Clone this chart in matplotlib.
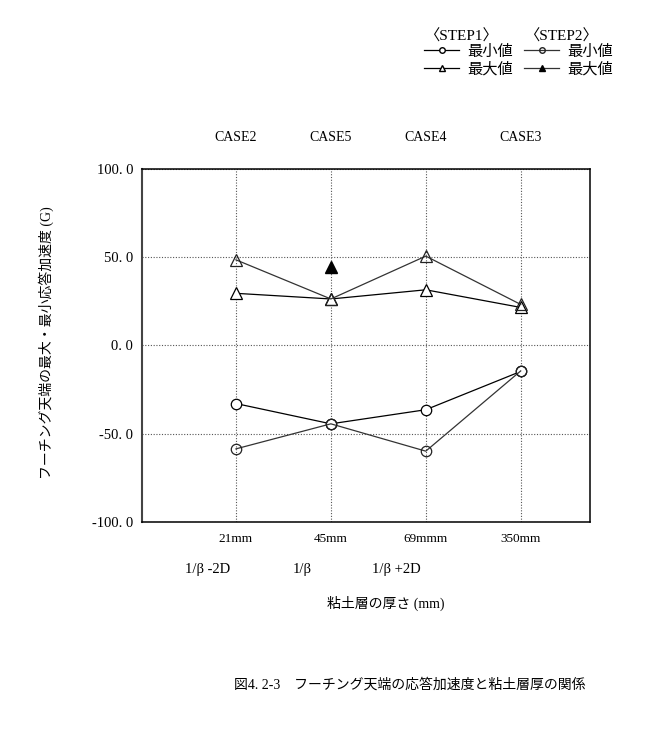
import matplotlib
matplotlib.use("Agg")
import matplotlib.pyplot as plt
from matplotlib.lines import Line2D

plt.rcParams['font.family'] = ['Liberation Serif', 'Noto Sans CJK JP', 'DejaVu Sans']

# ---- data ----
cases = ["CASE2", "CASE5", "CASE4", "CASE3"]
thickness_labels = ["21mm", "45mm", "69mmm", "350mm"]
beta_labels = ["1/β -2D", "1/β", "1/β +2D"]
step1_min = [-33.0, -44.5, -36.5, -14.8]
step1_max = [29.5, 26.3, 31.5, 21.5]
step2_min = [-58.7, -44.5, -60.0, -14.5]
step2_max = [48.5, 26.3, 50.6, 23.2]
step2_max_extra_x = [1]
step2_max_extra_y = [44.7]
yticks = [-100, -50, 0, 50, 100]

W, H = 666, 739
fig = plt.figure(figsize=(W / 100, H / 100), dpi=100)
L, R, T, B = 141.7, 590, 169, 521.7
ax = fig.add_axes([L / W, 1 - B / H, (R - L) / W, (B - T) / H])

x = list(range(len(cases)))
ax.plot(x, step1_min, '-', color='black', lw=0.9, marker='o', ms=7.5,
        mfc='white', mec='black', mew=0.9, zorder=4)
ax.plot(x, step1_max, '-', color='black', lw=0.9, marker='^', ms=8.5,
        mfc='white', mec='black', mew=0.9, zorder=4)
ax.plot(x, step2_min, '-', color='#333333', lw=0.9, marker='o', ms=7.5,
        mfc='none', mec='#222222', mew=0.9, zorder=5)
ax.plot(x, step2_max, '-', color='#333333', lw=0.9, marker='^', ms=8.5,
        mfc='none', mec='#222222', mew=0.9, zorder=5)
ax.plot(step2_max_extra_x, step2_max_extra_y, ls='none', marker='^', ms=8.5,
        mfc='black', mec='black', zorder=5)

ax.set_xlim(-0.993, 3.73)
ax.set_ylim(-100, 100)
ax.set_xticks(x)
ax.set_xticklabels(thickness_labels, fontsize=9.5)
ax.set_yticks(yticks)
ax.set_yticklabels([f"{v:.1f}".replace('.', '. ') for v in yticks], fontsize=10.5)
ax.tick_params(length=0, pad=6)
ax.tick_params(axis='x', pad=8)
ax.grid(True, ls=(0, (1, 1.5)), color='#555555', lw=0.8)
for s in ['left', 'top', 'bottom', 'right']:
    ax.spines[s].set_color('black')
    ax.spines[s].set_linewidth(1.1)
ax.spines['left'].set_color('#444444')
ax.spines['left'].set_linewidth(1.5)

# CASE labels above the plot
for i, c in enumerate(cases):
    ax.text(i, 1.09, c, transform=ax.get_xaxis_transform(), ha='center',
            va='center', fontsize=10)

# second row labels
beta_px = [208, 302, 396]
for px, lab in zip(beta_px, beta_labels):
    fig.text(px / W, 1 - 569 / H, lab, ha='center', va='center', fontsize=10.5)

fig.text(386 / W, 1 - 603 / H, "粘土層の厚さ (mm)", ha='center', va='center', fontsize=10)
fig.text(46 / W, 1 - 343 / H, "フーチング天端の最大・最小応答加速度 (G)", rotation=90,
         ha='center', va='center', fontsize=10)
fig.text(410 / W, 1 - 685 / H, "図4. 2-3　フーチング天端の応答加速度と粘土層厚の関係",
         ha='center', va='center', fontsize=10)

# legend
h1 = [Line2D([], [], color='black', lw=0.9, marker='o', ms=4, mfc='white', mec='black'),
      Line2D([], [], color='black', lw=0.9, marker='^', ms=4.5, mfc='white', mec='black')]
h2 = [Line2D([], [], color='#333333', lw=0.9, marker='o', ms=4, mfc='none', mec='#222222'),
      Line2D([], [], color='#333333', lw=0.9, marker='^', ms=4.5, mfc='black', mec='black')]
labs = ["最小値", "最大値"]
for hh, title, px in [(h1, "〈STEP1〉", 424), (h2, "〈STEP2〉", 524)]:
    lg = fig.legend(hh, labs, loc='upper left', bbox_to_anchor=(px / W, 1 - 29 / H),
                    frameon=False, title=title, fontsize=11, title_fontsize=11,
                    handlelength=2.3, handletextpad=0.5, labelspacing=0.2,
                    borderpad=0, borderaxespad=0)
    lg._legend_box.align = 'left'
    lg._legend_box.sep = 1

fig.savefig("out.png", dpi=100)
